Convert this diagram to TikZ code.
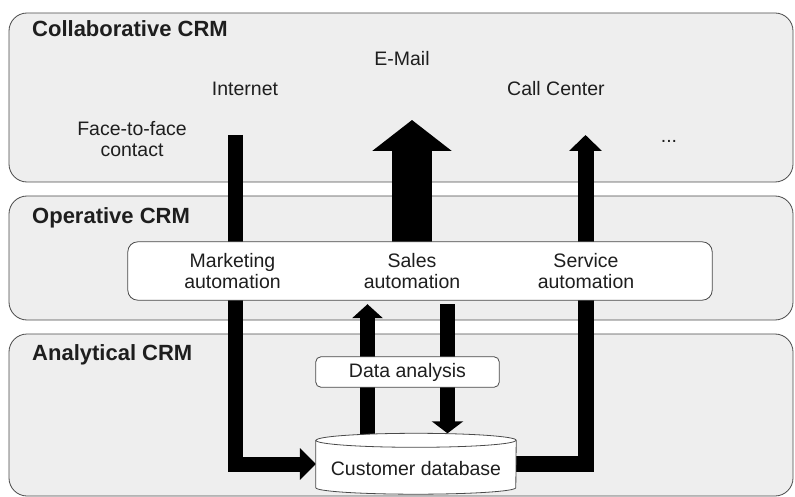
\documentclass[tikz,border=0pt]{standalone}
\usepackage{fontspec}
\setmainfont{Liberation Sans}
\usetikzlibrary{arrows.meta}
\definecolor{panelfill}{HTML}{EEEEEE}
\definecolor{panelline}{HTML}{4A4A4A}
\definecolor{inktext}{HTML}{1E1E1E}
\begin{document}
\begin{tikzpicture}[x=1pt,y=-1pt,
  panel/.style={draw=panelline, fill=panelfill, line width=0.8pt, rounded corners=18pt},
  title/.style={font=\fontsize{22}{26}\selectfont\bfseries, text=inktext, inner sep=0pt, anchor=base west},
  label/.style={font=\fontsize{19.5}{20.5}\selectfont, text=inktext, inner sep=0pt, align=center},
  whitebox/.style={draw=panelline, fill=white, line width=0.8pt},
  flow/.style={draw=black, line join=miter, line cap=butt},
]
\useasboundingbox (0,0) rectangle (795,497);

% the three CRM layers
\draw[panel] (9,13) rectangle (793,182);
\draw[panel] (9,196) rectangle (793,320);
\draw[panel] (9,334) rectangle (793,496);

% boxes (positions only; drawn after the flows)
\path node[minimum width=584pt, minimum height=58pt, inner sep=0pt] (auto) at (420,271) {};
\path node[minimum width=183pt, minimum height=30pt, inner sep=0pt] (dabox) at (407.5,372) {};
\path node[minimum width=200pt, minimum height=47pt, inner sep=0pt] (db) at (416,464) {};

% free ends of the flows
\coordinate (inetfoot) at (235,135);
\coordinate (mailtip) at (412,120);
\coordinate (calltip) at (585.5,135);
\coordinate (upx) at (367.5,0);
\coordinate (downx) at (447.5,0);

% flows
\draw[flow, line width=15pt, -{Triangle[width=31pt,length=16pt]}] (inetfoot) |- (db.west);
\draw[flow, line width=40pt, -{Triangle[width=78pt,length=31pt]}] (auto.north -| mailtip) -- (mailtip);
\draw[flow, line width=16pt, -{Triangle[width=32pt,length=16pt]}] (db.east) -| (calltip);
\draw[flow, line width=15pt, shorten >=4pt, -{Triangle[width=30pt,length=14pt]}] (db.north -| upx) -- (auto.south -| upx);
\draw[flow, line width=15pt, shorten <=4pt, shorten >=7pt, -{Triangle[width=31pt,length=12pt]}] (auto.south -| downx) -- (db.north -| downx);

% automation box
\draw[whitebox, rounded corners=10pt] (auto.north west) rectangle (auto.south east);
\node[label] (mk) at (232.5,271) {Marketing\\automation};
\node[label] (sales) at (412,271) {Sales\\automation};
\node[label] (serv) at (586,271) {Service\\automation};

% data analysis box
\draw[whitebox, rounded corners=5pt] (dabox.north west) rectangle (dabox.south east);
\node[label] (datxt) at (dabox.center) {Data analysis};

% customer database cylinder
\draw[whitebox] (db.north west) -- (db.south west)
  arc[start angle=180, end angle=360, x radius=100pt, y radius=6.5pt]
  -- (db.north east)
  arc[start angle=0, end angle=180, x radius=100pt, y radius=7pt] -- cycle;
\draw[panelline, line width=0.8pt] (db.north west)
  arc[start angle=180, end angle=360, x radius=100pt, y radius=7pt];
\node[label, anchor=base] (dbtxt) at (416,475) {Customer database};

% layer titles
\node[title] (collab) at (32,37) {Collaborative CRM};
\node[title] (oper) at (32,223) {Operative CRM};
\node[title] (anal) at (32,360) {Analytical CRM};

% channels
\node[label, anchor=base] (email) at (402,66) {E-Mail};
\node[label, anchor=base] (inet) at (245,96) {Internet};
\node[label, anchor=base] (call) at (556,96) {Call Center};
\node[label] (f2f) at (132,139) {Face-to-face\\contact};
\node[label, anchor=base] (more) at (669,143) {...};
\end{tikzpicture}
\end{document}
